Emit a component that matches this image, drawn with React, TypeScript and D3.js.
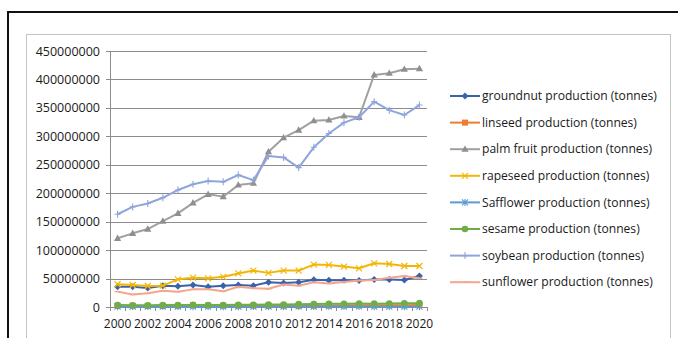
import React from "react";
import * as d3 from "d3";

// Oilseed production by crop, 2000-2020 (millions of tonnes)
const years = d3.range(2000, 2021);
const yTicks = [0, 50e6, 100e6, 150e6, 200e6, 250e6, 300e6, 350e6, 400e6, 450e6];
const xTickLabels = years.filter((y) => y % 2 === 0);

const groundnut = [35.7, 35.7, 33.5, 37.5, 36.5, 38.5, 35.5, 37.5, 38.7, 37.5, 43.5, 42, 43.5, 48, 47, 47, 46.5, 48.5, 48.5, 47.5, 54.5];
const linseed = [2.0, 2.1, 1.9, 1.9, 2.0, 2.9, 2.7, 2.3, 2.0, 2.4, 2.0, 2.2, 2.0, 2.4, 2.7, 3.1, 2.9, 3.2, 3.2, 3.1, 3.4];
const palmFruit = [120.8, 129.5, 137, 151, 164.7, 183, 198, 194, 214.5, 217.5, 273, 297.6, 311, 327.5, 328.7, 335.8, 333.5, 408, 411, 418, 419];
const rapeseed = [40, 38.7, 37, 37.5, 48.6, 51.6, 50.4, 53, 59, 64, 60, 64, 64, 74.5, 74, 71, 68, 76.8, 75.6, 72, 72];
const safflower = [0.62, 0.69, 0.66, 0.72, 0.74, 0.62, 0.6, 0.57, 0.65, 0.7, 0.66, 0.72, 0.91, 0.82, 0.94, 0.85, 0.95, 0.65, 0.63, 0.55, 0.65];
const sesame = [3.4, 3.2, 3.1, 3.3, 3.5, 3.7, 3.6, 3.6, 3.8, 3.9, 4.4, 4.5, 5.0, 5.4, 5.6, 5.8, 6.1, 5.9, 6.0, 6.6, 6.8];
const soybean = [163, 176, 182, 192, 205.7, 215.7, 221.5, 220, 232, 223, 265.5, 263, 245, 280.7, 305, 324, 333.5, 361, 346, 337.5, 355];
const sunflower = [27, 22, 24, 28.5, 27, 31, 31, 27.5, 35.5, 33, 32, 39.5, 37.5, 43.5, 41.5, 44, 46.5, 47.5, 51.5, 54.5, 50.5];

type Marker = "diamond" | "square" | "triangle" | "x" | "star" | "circle" | "plus" | "dash";

const series: { name: string; values: number[]; color: string; marker: Marker }[] = [
  { name: "groundnut production (tonnes)", values: groundnut, color: "#3A62AD", marker: "diamond" },
  { name: "linseed production (tonnes)", values: linseed, color: "#ED7D31", marker: "square" },
  { name: "palm fruit production (tonnes)", values: palmFruit, color: "#A0A0A0", marker: "triangle" },
  { name: "rapeseed production (tonnes)", values: rapeseed, color: "#F2B705", marker: "x" },
  { name: "Safflower production (tonnes)", values: safflower, color: "#5B9BD5", marker: "star" },
  { name: "sesame production (tonnes)", values: sesame, color: "#70AD47", marker: "circle" },
  { name: "soybean production (tonnes)", values: soybean, color: "#8FA5DC", marker: "plus" },
  { name: "sunflower production (tonnes)", values: sunflower, color: "#F4A68C", marker: "dash" },
];

const FONT = "'Open Sans', 'Liberation Sans', sans-serif";

const plot = { left: 110, right: 427, top: 51, bottom: 307 };

const x = d3.scaleBand<number>().domain(years).range([plot.left, plot.right]).padding(0);
const cx = (yr: number) => (x(yr) as number) + x.bandwidth() / 2;
const y = d3.scaleLinear().domain([0, 450e6]).range([plot.bottom, plot.top]);

function MarkerShape({ kind, px, py, color }: { kind: Marker; px: number; py: number; color: string }) {
  const s = 3;
  switch (kind) {
    case "diamond":
      return <path d={`M${px},${py - 3.5}L${px + 3.5},${py}L${px},${py + 3.5}L${px - 3.5},${py}Z`} fill={color} />;
    case "square":
      return <rect x={px - s} y={py - s} width={2 * s} height={2 * s} fill={color} />;
    case "triangle":
      return <path d={`M${px},${py - 3.8}L${px + 3.6},${py + 2.6}L${px - 3.6},${py + 2.6}Z`} fill="#8F8F8F" />;
    case "x":
      return (
        <path d={`M${px - s},${py - s}L${px + s},${py + s}M${px - s},${py + s}L${px + s},${py - s}`} stroke={color} strokeWidth={1.2} />
      );
    case "star":
      return (
        <path
          d={`M${px - s},${py - s}L${px + s},${py + s}M${px - s},${py + s}L${px + s},${py - s}M${px},${py - s - 0.5}L${px},${py + s + 0.5}`}
          stroke={color}
          strokeWidth={1.1}
        />
      );
    case "circle":
      return <circle cx={px} cy={py} r={3.3} fill={color} />;
    case "plus":
      return <path d={`M${px - s},${py}L${px + s},${py}M${px},${py - s - 0.5}L${px},${py + s + 0.5}`} stroke={color} strokeWidth={1.1} />;
    case "dash":
      return <path d={`M${px - 3},${py}L${px + 3},${py}`} stroke={color} strokeWidth={1.4} />;
  }
}

export default function App() {
  const line = d3
    .line<number>()
    .x((_, i) => cx(years[i]))
    .y((v) => y(v * 1e6));

  const fmt = d3.format("d");
  const legendX = 450;
  const legendY0 = 96;
  const legendStep = 26.6;

  return (
    <svg
      width={678}
      height={338}
      style={{ position: "absolute", left: 0, top: 0, background: "#fff" }}
      fontFamily={FONT}
    >
      {/* outer frame */}
      <path d="M8,338V12H678" fill="none" stroke="#111" strokeWidth={2} />
      {/* chart area border */}
      <rect x={26.5} y={34.5} width={644} height={320} fill="none" stroke="#C4C4C4" strokeWidth={1} />

      {/* gridlines and y axis labels */}
      {yTicks.map((t) => (
        <g key={t}>
          <line x1={plot.left - 4} x2={plot.right} y1={Math.round(y(t)) + 0.5} y2={Math.round(y(t)) + 0.5} stroke="#8C8C8C" strokeWidth={1} />
          <text x={100} y={y(t)} dy="0.36em" textAnchor="end" fontSize={12.5} fill="#1a1a1a">
            {fmt(t)}
          </text>
        </g>
      ))}
      {/* y axis */}
      <line x1={plot.left + 0.5} x2={plot.left + 0.5} y1={plot.top} y2={plot.bottom} stroke="#8C8C8C" />
      {/* x axis category ticks */}
      {years.concat([2021]).map((yr, i) => {
        const xx = Math.round(plot.left + i * x.bandwidth()) + 0.5;
        return <line key={yr} x1={xx} x2={xx} y1={plot.bottom} y2={plot.bottom + 4} stroke="#8C8C8C" />;
      })}
      {xTickLabels.map((yr) => (
        <text key={yr} x={cx(yr)} y={328} textAnchor="middle" fontSize={12} fill="#1a1a1a">
          {yr}
        </text>
      ))}

      {/* series */}
      {series.map((s) => (
        <g key={s.name}>
          <path d={line(s.values) || ""} fill="none" stroke={s.color} strokeWidth={2} strokeLinejoin="round" />
          {s.values.map((v, i) => (
            <MarkerShape key={i} kind={s.marker} px={cx(years[i])} py={y(v * 1e6)} color={s.color} />
          ))}
        </g>
      ))}

      {/* legend */}
      {series.map((s, i) => {
        const ly = legendY0 + i * legendStep;
        return (
          <g key={s.name}>
            <line x1={legendX} x2={legendX + 30} y1={ly} y2={ly} stroke={s.color} strokeWidth={2} />
            <MarkerShape kind={s.marker} px={legendX + 15} py={ly} color={s.color} />
            <text x={legendX + 32} y={ly} dy="0.35em" fontSize={12.1} fill="#1a1a1a">
              {s.name}
            </text>
          </g>
        );
      })}
    </svg>
  );
}
